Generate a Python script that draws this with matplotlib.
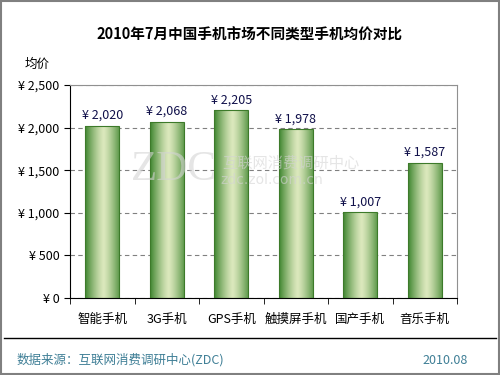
import numpy as np
import matplotlib
matplotlib.use("Agg")
import matplotlib.pyplot as plt
import matplotlib.ticker as mticker
from matplotlib.patches import Rectangle

plt.rcParams['font.family'] = ['Noto Sans CJK SC', 'DejaVu Sans']

# data
categories = ['智能手机', '3G手机', 'GPS手机', '触摸屏手机', '国产手机', '音乐手机']
prices = [2020, 2068, 2205, 1978, 1007, 1587]
yticks = [0, 500, 1000, 1500, 2000, 2500]

fig = plt.figure(figsize=(5, 3.75), dpi=100)
ax = fig.add_axes([70/500, 1-298/375, (457-70)/500, (298-85)/375])

x = np.arange(len(categories))
bars = ax.bar(x, prices, width=0.52, color='none', edgecolor='#3d7a2a', linewidth=0.8, zorder=3)

# green cylinder-like gradient: dark edges, pale centre
t = np.linspace(0, 1, 256)
shade = np.abs(t - 0.55) / 0.55
shade = np.clip(shade, 0, 1) ** 1.3
dark = np.array([0.24, 0.52, 0.18])
light = np.array([0.86, 0.91, 0.74])
grad = light[None, :] * (1 - shade[:, None]) + dark[None, :] * shade[:, None]
grad = grad[None, :, :]
for b in bars:
    x0, w, h = b.get_x(), b.get_width(), b.get_height()
    im = ax.imshow(grad, extent=[x0, x0 + w, 0, h], aspect='auto', zorder=2, interpolation='bilinear')
    im.set_clip_path(b)

for xi, v in zip(x, prices):
    ax.text(xi, v + 45, '¥ {:,}'.format(v), ha='center', va='bottom', fontsize=9, color='#10104a', zorder=4)

ax.set_xlim(-0.5, len(categories) - 0.5)
ax.set_ylim(0, 2500)
ax.set_yticks(yticks)
ax.yaxis.set_major_formatter(mticker.FuncFormatter(lambda v, p: '¥ {:,}'.format(int(v))))
ax.set_xticks(x)
ax.set_xticklabels(categories, fontsize=9)
ax.tick_params(axis='x', length=0, pad=11)
ax.set_xticks(np.arange(len(categories) + 1) - 0.5, minor=True)
ax.tick_params(axis='x', which='minor', length=4, direction='out')
ax.tick_params(axis='y', labelsize=9, length=4, direction='out')
ax.grid(axis='y', linestyle=(0, (4, 3)), color='#808080', linewidth=0.8, zorder=1)
for s in ['top', 'right']:
    ax.spines[s].set_color('#909090')
ax.set_axisbelow(True)

# watermark, drawn faintly over the bars
wm = dict(color='#d4d4d4', alpha=0.6, zorder=6)
fig.text(174/500, 1 - 170/375, 'ZDC', fontsize=31, ha='center', va='center',
         family='Liberation Serif', **wm)
fig.text(291/500, 1 - 163/375, '互联网消费调研中心', fontsize=11, ha='center', va='center', **wm)
fig.text(272/500, 1 - 180/375, 'zdc.zol.com.cn', fontsize=10, ha='center', va='center',
         family='DejaVu Sans', **wm)

fig.text(0.5, 1 - 35/375, '2010年7月中国手机市场不同类型手机均价对比', ha='center', va='center',
         fontsize=10.5, fontweight='bold')
fig.text(37/500, 1 - 64/375, '均价', ha='center', va='center', fontsize=9)

fig.add_artist(plt.Line2D([4/500, 496/500], [1 - 338/375] * 2, color='black', linewidth=1))
fig.text(17/500, 1 - 360/375, '数据来源：互联网消费调研中心(ZDC)', ha='left', va='center', fontsize=9, color='#3f7f96')
fig.text(468/500, 1 - 360/375, '2010.08', ha='right', va='center', fontsize=9, color='#3f7f96')

fig.add_artist(Rectangle((0.002, 0.003), 0.996, 0.994, transform=fig.transFigure,
                         fill=False, edgecolor='#808080', linewidth=1.5))

fig.savefig('out.png', dpi=100)
